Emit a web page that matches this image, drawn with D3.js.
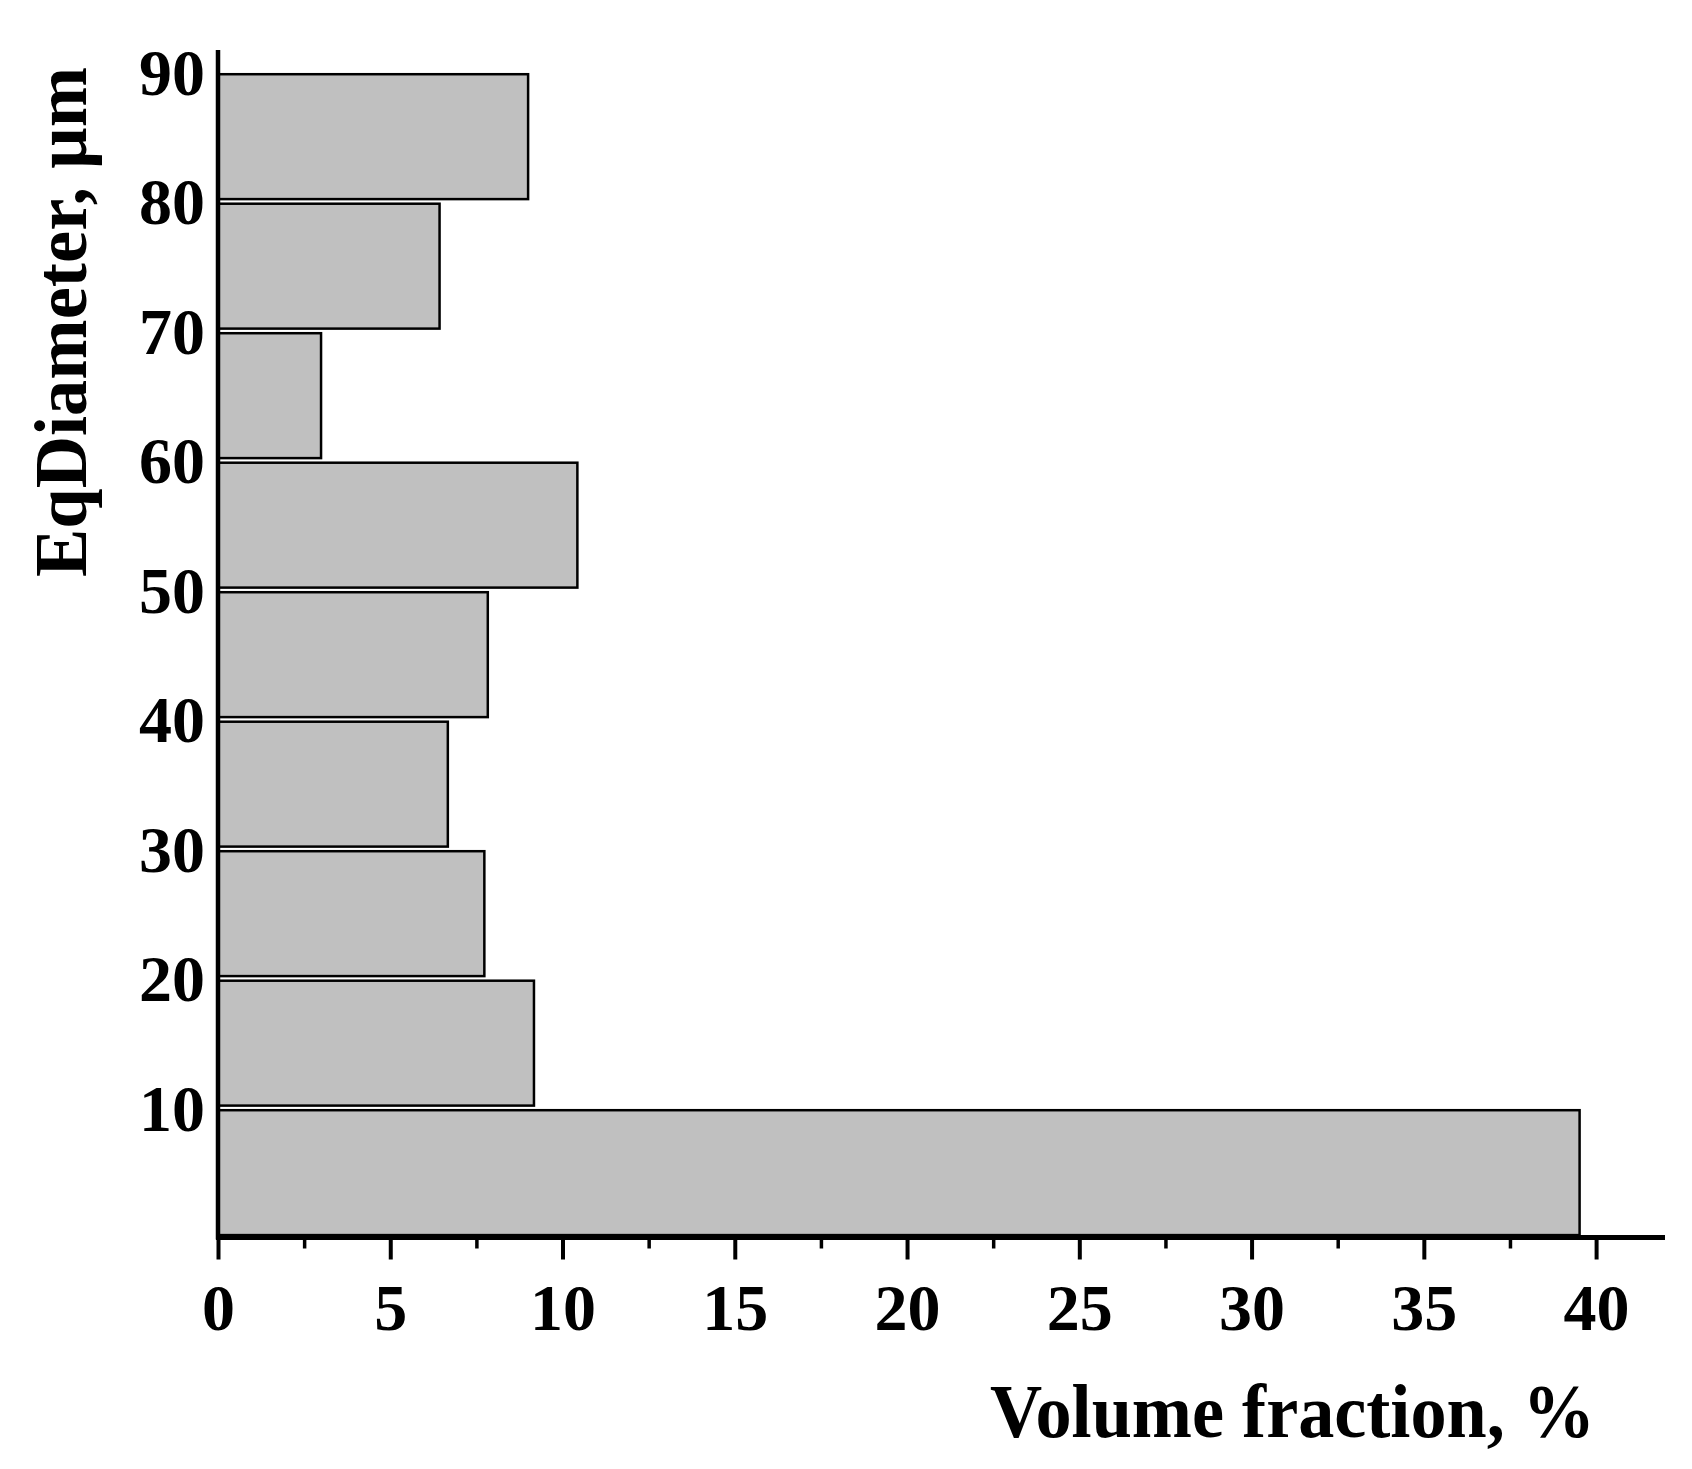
<!DOCTYPE html>
<html>
<head>
<meta charset="utf-8">
<script src="https://cdn.jsdelivr.net/npm/d3@7"></script>
<style>
  html, body { margin: 0; padding: 0; background: #fff; }
  svg { display: block; }
  text { font-family: "Liberation Serif", "Times New Roman", serif; font-weight: bold; fill: #000; }
</style>
</head>
<body>
<svg id="chart" width="1692" height="1469"></svg>
<script>
// Data
const binStarts = [0, 10, 20, 30, 40, 50, 60, 70, 80];
const binWidth = 10;
const volumeFraction = [39.55, 9.2, 7.76, 6.7, 7.86, 10.46, 3.02, 6.46, 9.03];
const xTickValues = [0, 5, 10, 15, 20, 25, 30, 35, 40];
const xMinorTickValues = [2.5, 7.5, 12.5, 17.5, 22.5, 27.5, 32.5, 37.5];
const yTickValues = [10, 20, 30, 40, 50, 60, 70, 80, 90];
const xTitle = "Volume fraction, %";
const yTitle = "EqDiameter, µm";

const svg = d3.select("#chart");

const x = d3.scaleLinear().domain([0, 42]).range([218, 1665]);
const y = d3.scaleLinear().domain([0, 91.7]).range([1237.5, 50]);

// Bars
svg.append("g").selectAll("rect")
  .data(binStarts.map((s, i) => ({ lo: s, hi: s + binWidth, v: volumeFraction[i] })))
  .join("rect")
  .attr("x", x(0))
  .attr("y", d => y(d.hi) + 2.2)
  .attr("width", d => x(d.v) - x(0) - 1)
  .attr("height", d => y(d.lo) - y(d.hi) - 4.6)
  .attr("fill", "#c0c0c0")
  .attr("stroke", "#000")
  .attr("stroke-width", 2.5);

// X axis (major)
const xAxis = svg.append("g")
  .attr("transform", `translate(0,${y(0)})`)
  .call(d3.axisBottom(x).tickValues(xTickValues).tickSizeInner(22).tickSizeOuter(0).tickPadding(24).tickFormat(d3.format("d")));
xAxis.select(".domain").attr("stroke-width", 5).attr("d", `M${x(0) - 2},0H${x(42)}`);
xAxis.selectAll(".tick line").attr("stroke-width", 4);
xAxis.selectAll(".tick text").attr("font-size", 66).attr("font-family", "Liberation Serif").attr("font-weight", "bold").attr("dy", "0.71em");

// X axis (minor)
const xMinor = svg.append("g")
  .attr("transform", `translate(0,${y(0)})`)
  .call(d3.axisBottom(x).tickValues(xMinorTickValues).tickSizeInner(11).tickSizeOuter(0).tickFormat(""));
xMinor.select(".domain").remove();
xMinor.selectAll(".tick line").attr("stroke-width", 3.5);

// Y axis
const yAxis = svg.append("g")
  .attr("transform", `translate(${x(0)},0)`)
  .call(d3.axisLeft(y).tickValues(yTickValues).tickSizeInner(0).tickSizeOuter(0).tickPadding(13).tickFormat(d3.format("d")));
yAxis.select(".domain").attr("stroke-width", 4.5).attr("d", `M0,${y(91.7)}V${y(0) + 2}`);
yAxis.selectAll(".tick text").attr("font-size", 66).attr("font-family", "Liberation Serif").attr("font-weight", "bold").attr("dy", "0.34em");

// Titles
svg.append("text")
  .attr("x", 990)
  .attr("y", 1437)
  .attr("font-size", 76)
  .attr("textLength", 605)
  .attr("lengthAdjust", "spacingAndGlyphs")
  .text(xTitle);

svg.append("text")
  .attr("transform", "translate(86,577) rotate(-90)")
  .attr("x", 0)
  .attr("y", 0)
  .attr("font-size", 73)
  .attr("textLength", 510)
  .attr("lengthAdjust", "spacingAndGlyphs")
  .text(yTitle);
</script>
</body>
</html>
